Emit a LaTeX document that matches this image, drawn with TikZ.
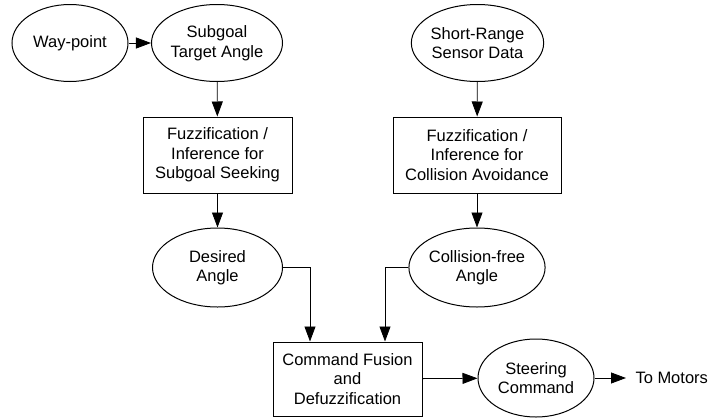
\documentclass[tikz,border=0pt]{standalone}
\usepackage{fontspec}
\setmainfont{Liberation Sans}
\usetikzlibrary{shapes.geometric,arrows.meta}
\newcommand{\myfont}{\fontsize{16.5}{19.5}\selectfont}

\begin{document}
\begin{tikzpicture}[x=1pt,y=-1pt,line width=1pt,
  oval/.style={draw,ellipse,inner sep=0pt,minimum width=130pt,minimum height=77pt,align=center,font=\myfont},
  block/.style={draw,rectangle,inner sep=0pt,minimum height=76pt,align=center,font=\myfont},
  arr/.style={line width=0.8pt,-{Triangle[length=15pt,width=11pt]}}]

 \useasboundingbox (0,0) rectangle (710,418);

 % top row
 \node[oval,minimum width=116pt] (waypoint) at (70,43) {Way-point};
 \node[oval] (subgoal) at (217,43) {Subgoal\\Target Angle};
 \node[oval,minimum width=131pt] (sensor) at (477.5,43) {Short-Range\\Sensor Data};

 % inference blocks
 \node[block,minimum width=149pt] (seeking) at (217.5,155) {Fuzzification /\\Inference for\\Subgoal Seeking};
 \node[block,minimum width=168pt] (avoid) at (477,155) {Fuzzification /\\Inference for\\Collision Avoidance};

 % angles
 \node[oval,minimum height=79pt] (desired) at (217.5,267.5) {Desired\\Angle};
 \node[oval,minimum width=128pt,minimum height=79pt] (free) at (477,267.5) {Collision-free\\Angle};

 % fusion and output
 \node[block,minimum width=149pt,minimum height=74pt] (fusion) at (347.5,379) {Command Fusion\\and\\Defuzzification};
 \node[oval,minimum width=116pt,minimum height=78pt] (steer) at (536,378) {Steering\\Command};
 \node[anchor=west,inner sep=0pt,font=\myfont] (motors) at (635,378) {To Motors};

 \draw[arr] (waypoint) -- (subgoal);
 \draw[arr] (subgoal) -- (seeking);
 \draw[arr] (sensor) -- (avoid);
 \draw[arr] (seeking) -- (desired);
 \draw[arr] (avoid) -- (free);
 \draw[arr] (desired.east) -| ([xshift=-37.5pt]fusion.north);
 \draw[arr] (free.west) -| ([xshift=37.5pt]fusion.north);
 \draw[arr] (fusion) -- (steer);
 \draw[arr] (steer) -- ([xshift=-9pt]motors.west);

\end{tikzpicture}
\end{document}
